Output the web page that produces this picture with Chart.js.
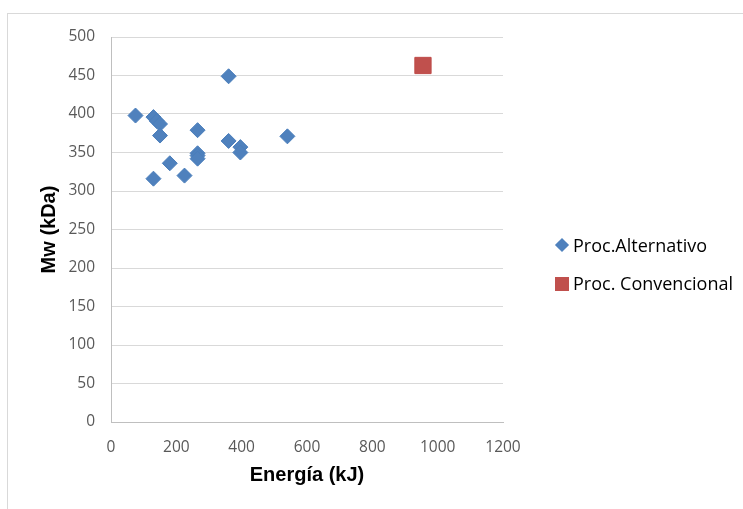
<!DOCTYPE html>
<html>
<head>
<meta charset="utf-8">
<script src="https://cdn.jsdelivr.net/npm/chart.js@4"></script>
<style>
  html, body { margin: 0; padding: 0; background: #fff; }
  #wrap { position: relative; width: 743px; height: 509px; overflow: hidden; }
  #frame { position: absolute; left: 7px; top: 13px; width: 760px; height: 520px; border: 1px solid #d9d9d9; box-sizing: border-box; }
  canvas { position: absolute; left: 0; top: 0; }
  .leg { position: absolute; left: 573px; font-family: "Open Sans", sans-serif; font-size: 18px; color: #000; line-height: 20px; }
  .mk { position: absolute; }
</style>
</head>
<body>
<div id="wrap">
  <div id="frame"></div>
  <canvas id="chart" width="743" height="509"></canvas>
  <div class="mk" style="left:557px;top:240px;width:10px;height:10px;background:#4f81bd;transform:rotate(45deg);"></div>
  <div class="leg" style="top:235px;">Proc.Alternativo</div>
  <div class="mk" style="left:555px;top:277px;width:14px;height:14px;background:#c0504d;"></div>
  <div class="leg" style="top:273px;">Proc. Convencional</div>
</div>
<script>
// Proc. Alternativo
const altX = [75, 130, 140, 150, 150, 265, 360, 360, 396, 396, 540, 265, 265, 265, 180, 130, 225];
const altY = [398, 396, 391, 387, 372, 379, 449, 365, 357, 350, 371, 349, 346, 342, 336, 316, 320];
// Proc. Convencional
const convX = [955];
const convY = [463];

const xTitle = 'Energía (kJ)';
const yTitle = 'Mw (kDa)';

const toPoints = (xs, ys) => xs.map((x, i) => ({ x: x, y: ys[i] }));

const tickFont = { family: 'Open Sans', size: 15.5 };
const titleFont = { family: 'Liberation Sans', size: 20, weight: 'bold' };

new Chart(document.getElementById('chart'), {
  type: 'scatter',
  data: {
    datasets: [{
      label: 'Proc.Alternativo',
      data: toPoints(altX, altY),
      pointStyle: 'rectRot',
      pointRadius: 7.5,
      pointHoverRadius: 7.5,
      backgroundColor: '#4f81bd',
      borderColor: '#4a7ebb',
      borderWidth: 1
    }, {
      label: 'Proc. Convencional',
      data: toPoints(convX, convY),
      pointStyle: 'rect',
      pointRadius: 11.5,
      pointHoverRadius: 11.5,
      backgroundColor: '#c0504d',
      borderColor: '#be4b48',
      borderWidth: 1
    }]
  },
  options: {
    responsive: false,
    animation: false,
    layout: { padding: { top: 37, right: 240, bottom: 17, left: 0 } },
    plugins: { legend: { display: false }, tooltip: { enabled: false } },
    scales: {
      x: {
        type: 'linear',
        min: 0,
        max: 1200,
        ticks: { stepSize: 200, color: '#595959', font: tickFont, padding: 16, callback: v => String(v) },
        grid: { display: false, drawTicks: false },
        border: { display: true, color: '#bfbfbf' },
        title: { display: true, text: xTitle, color: '#000', font: titleFont, padding: { top: 0, bottom: 5 } },
        afterFit: s => { s.height = 70; }
      },
      y: {
        min: 0,
        max: 500,
        ticks: { stepSize: 50, color: '#595959', font: tickFont, padding: 16, callback: v => String(v) },
        grid: { color: '#d9d9d9', drawTicks: false },
        border: { display: true, color: '#bfbfbf' },
        title: { display: true, text: yTitle, color: '#000', font: titleFont, padding: { top: 37, bottom: 0 } },
        afterFit: s => { s.width = 111; }
      }
    }
  }
});
</script>
</body>
</html>
